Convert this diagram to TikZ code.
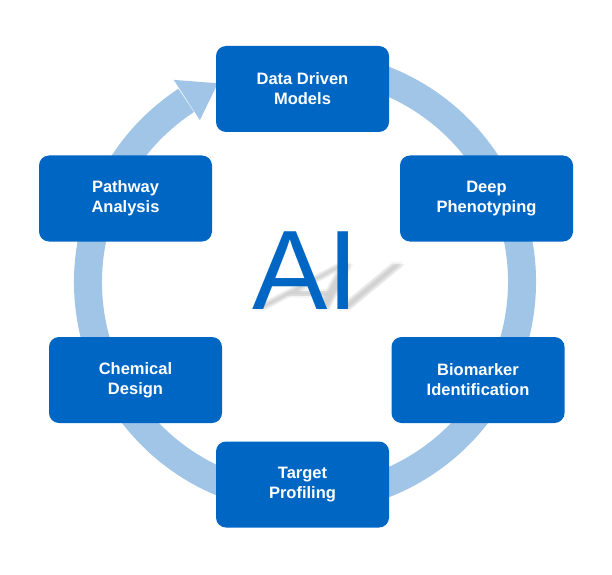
\documentclass[tikz,border=0pt]{standalone}
\usepackage{fontspec}
\setmainfont{Liberation Sans}
\definecolor{boxblue}{RGB}{0,102,196}
\definecolor{ringblue}{RGB}{160,197,230}
\definecolor{shadowgray}{RGB}{150,150,150}
\tikzset{
  stagebox/.style={fill=boxblue, rounded corners=10pt, minimum width=173pt, minimum height=86pt,
    text=white, align=center, inner sep=0pt,
    font=\bfseries\fontsize{16.5}{20}\selectfont},
  ringline/.style={draw=ringblue, line width=28pt},
}
\begin{document}
\begin{tikzpicture}[x=1pt,y=1pt]
\useasboundingbox (0,0) rectangle (612,574);
\fill[white] (0,0) rectangle (612,574);
\coordinate (c) at (305,292);
% ring
\draw[ringline] ([shift={(c)}]80:217) arc[start angle=80, end angle=-236.8, radius=217];
\fill[ringblue] ([shift={(c)}]123.0:241) -- ([shift={(c)}]113.7:217) -- ([shift={(c)}]123.0:193) -- cycle;
% shadow of AI
\foreach \dx/\dy in {0/0,2/0,-2/0,0/2,0/-2}{
  \begin{scope}[cm={1,0,0.7,0.58,(253+\dx,265+\dy)}]
    \node[transform shape, anchor=base west, inner sep=0pt, text=shadowgray, opacity=0.1,
      font=\fontsize{113}{113}\selectfont] (sh) at (0,0) {AI};
  \end{scope}
}
% AI
\node[anchor=base west, inner sep=0pt, text=boxblue, font=\fontsize{113}{113}\selectfont] (ai) at (252,265) {AI};
% boxes
\node[stagebox] (data) at (302.5,485) {Data Driven\\Models};
\node[stagebox] (deep) at (486.5,375.5) {Deep\\Phenotyping};
\node[stagebox] (bio) at (478,194) {Biomarker\\Identification};
\node[stagebox] (target) at (302.5,89.5) {Target\\Profiling};
\node[stagebox] (chem) at (135.5,194) {Chemical\\Design};
\node[stagebox] (path) at (125.5,375.5) {Pathway\\Analysis};
\end{tikzpicture}
\end{document}
